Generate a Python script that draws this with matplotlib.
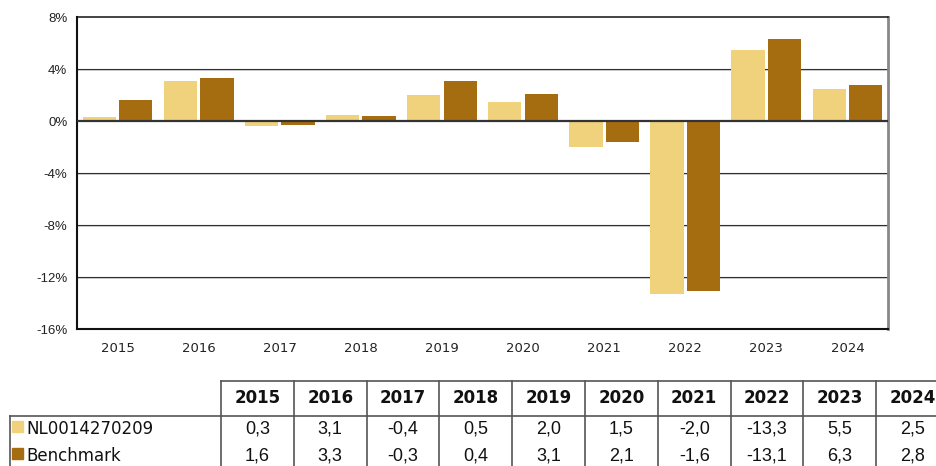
import numpy as np
import matplotlib
matplotlib.use("Agg")
import matplotlib.pyplot as plt
import matplotlib.transforms as mtrans

years = ["2015", "2016", "2017", "2018", "2019", "2020", "2021", "2022", "2023", "2024"]
fund = [0.3, 3.1, -0.4, 0.5, 2.0, 1.5, -2.0, -13.3, 5.5, 2.5]
bench = [1.6, 3.3, -0.3, 0.4, 3.1, 2.1, -1.6, -13.1, 6.3, 2.8]
series_names = ["NL0014270209", "Benchmark"]
yticks = [8, 4, 0, -4, -8, -12, -16]

c_fund = "#f0d27c"
c_bench = "#a66d10"

W, H = 936, 466
fig = plt.figure(figsize=(W / 100, H / 100), dpi=100)

# --- bar chart ---
ax = fig.add_axes([77 / W, 1 - 329 / H, (888 - 77) / W, (329 - 17) / H])
x = np.arange(len(years))
bw = 0.41
ax.bar(x - 0.225, fund, bw, color=c_fund, zorder=3)
ax.bar(x + 0.225, bench, bw, color=c_bench, zorder=3)
ax.set_xlim(-0.5, len(years) - 0.5)
ax.set_ylim(-16, 8)
ax.set_yticks(yticks)
ax.set_yticklabels([f"{t}%" for t in yticks], fontsize=9.5, family="Liberation Sans", color="#222")
ax.set_xticks(x)
ax.set_xticklabels(years, fontsize=9.5, family="DejaVu Sans", color="#222")
ax.tick_params(length=0, pad=7)
ax.tick_params(axis="x", pad=9)

# thin gridlines with a faint grey shadow just under them
ytrans = ax.get_yaxis_transform()
shadow = mtrans.offset_copy(ytrans, fig=fig, x=0, y=-1, units="dots")
for t in [4, -4, -8, -12]:
    ax.plot([0, 1], [t, t], color="#d0d0d0", lw=0.75, transform=shadow, zorder=1)
    ax.plot([0, 1], [t, t], color="#303030", lw=0.8, transform=ytrans, zorder=2)
ax.axhline(0, color="#333333", lw=1.6, zorder=4)

for s in ["left", "bottom"]:
    ax.spines[s].set_linewidth(1.5)
    ax.spines[s].set_color("#111")
ax.spines["top"].set_linewidth(1.1)
ax.spines["top"].set_color("#111")
ax.spines["right"].set_linewidth(2)
ax.spines["right"].set_color("#888888")

# --- data table below, drawn in pixel coordinates ---
tb = fig.add_axes([0, 0, 1, 1])
tb.set_xlim(0, W)
tb.set_ylim(H, 0)
tb.axis("off")

col0, colw = 221, 72.8
y_top, y_hdr, y_bot = 381, 416, H + 5
edges = [col0 + i * colw for i in range(len(years) + 1)]
lc, lw = "#555", 1.2
tb.plot([col0, edges[-1]], [y_top, y_top], color=lc, lw=lw)
tb.plot([10, edges[-1]], [y_hdr, y_hdr], color=lc, lw=lw)
tb.plot([10, 10], [y_hdr, y_bot], color=lc, lw=lw)
for e in edges:
    tb.plot([e, e], [y_top, y_bot], color=lc, lw=lw)

row_y = [429, 456]
for i, yr in enumerate(years):
    cx = col0 + (i + 0.5) * colw
    tb.text(cx, 398, yr, ha="center", va="center", fontsize=12,
            fontweight="bold", family="DejaVu Sans", color="#111")
    for vals, ry in zip([fund, bench], row_y):
        tb.text(cx, ry, f"{vals[i]:.1f}".replace(".", ","), ha="center", va="center",
                fontsize=13, family="Liberation Sans", color="#111")

for name, col, ry in zip(series_names, [c_fund, c_bench], row_y):
    tb.add_patch(plt.Rectangle((12, ry - 8), 11, 11, color=col))
    tb.text(26, ry, name, ha="left", va="center", fontsize=12,
            family="DejaVu Sans", color="#111")

fig.savefig("out.png", dpi=100)
